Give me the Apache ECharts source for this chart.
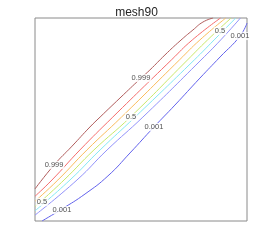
<!DOCTYPE html>
<html>
<head>
<meta charset="utf-8">
<script src="https://cdn.jsdelivr.net/npm/echarts@6/dist/echarts.min.js"></script>
<style>
html,body{margin:0;padding:0;background:#fff;}
#c{width:273px;height:249px;}
</style>
</head>
<body>
<div id="c"></div>
<script>
// Contour lines (x, y in unit square), from top-left to bottom-right
const contour0999 = [[0,0.158],[0.090,0.276],[0.175,0.369],[0.259,0.463],[0.307,0.512],[0.401,0.606],[0.500,0.704],[0.542,0.744],[0.613,0.818],[0.684,0.887],[0.745,0.941],[0.792,0.980],[0.840,1.0]];
const contourRed = [[0,0.122],[0.080,0.202],[0.212,0.350],[0.367,0.512],[0.643,0.793],[0.742,0.892],[0.875,1.0]];
const contourOrange = [[0,0.097],[0.108,0.202],[0.245,0.350],[0.408,0.512],[0.681,0.793],[0.778,0.892],[0.900,1.0]];
const contour05 = [[0,0.071],[0.137,0.202],[0.278,0.350],[0.450,0.512],[0.719,0.793],[0.814,0.892],[0.925,1.0]];
const contourCyan = [[0,0.050],[0.165,0.202],[0.307,0.350],[0.472,0.512],[0.751,0.793],[0.845,0.892],[0.947,1.0]];
const contourLightBlue = [[0,0.029],[0.198,0.202],[0.340,0.350],[0.509,0.512],[0.783,0.793],[0.876,0.892],[0.969,1.0]];
const contour0001 = [[0.033,0],[0.127,0.059],[0.236,0.133],[0.344,0.222],[0.448,0.335],[0.561,0.463],[0.660,0.571],[0.778,0.704],[0.873,0.808],[0.967,0.911],[1.0,0.975]];

const lineColors = ['#b05c5c','#f46c6c','#fabc5c','#c8e86a','#84e8f4','#9292fa','#6262ec'];

// Contour labels
const labels0999 = [[0.090,0.276],[0.500,0.704]];
const labels05 = [[0.033,0.094],[0.453,0.512],[0.873,0.936]];
const labels0001 = [[0.127,0.054],[0.561,0.463],[0.967,0.911]];
const titleText = 'mesh90';

const lines = [contour0999, contourRed, contourOrange, contour05, contourCyan, contourLightBlue, contour0001];

const series = lines.map((d, i) => ({
  type: 'line', data: d, showSymbol: false, smooth: 0.5, z: 2,
  lineStyle: { color: lineColors[i], width: 1 }, silent: true, animation: false
}));

function labelSeries(pts, txt) {
  return {
    type: 'scatter', data: pts, symbolSize: 0, z: 5, silent: true, animation: false,
    label: {
      show: true, position: 'inside', formatter: txt,
      fontFamily: 'Liberation Sans, Arial, sans-serif', fontSize: 7.5, color: '#262626',
      backgroundColor: '#ffffff', padding: [0, 1, 0, 1]
    }
  };
}
series.push(labelSeries(labels0999, '0.999'));
series.push(labelSeries(labels05, '0.5'));
series.push(labelSeries(labels0001, '0.001'));

const chart = echarts.init(document.getElementById('c'), null, { renderer: 'canvas' });
chart.setOption({
  backgroundColor: '#ffffff',
  animation: false,
  title: {
    text: titleText, left: 'center', top: 2,
    textStyle: { fontFamily: 'Liberation Sans, Arial, sans-serif', fontSize: 12, fontWeight: 'normal', color: '#262626' }
  },
  grid: { left: 35, top: 18, width: 212, height: 203, show: true, borderColor: '#8a8a8a', borderWidth: 1, backgroundColor: '#ffffff' },
  xAxis: { type: 'value', min: 0, max: 1, show: false },
  yAxis: { type: 'value', min: 0, max: 1, show: false },
  series: series
});
</script>
</body>
</html>
